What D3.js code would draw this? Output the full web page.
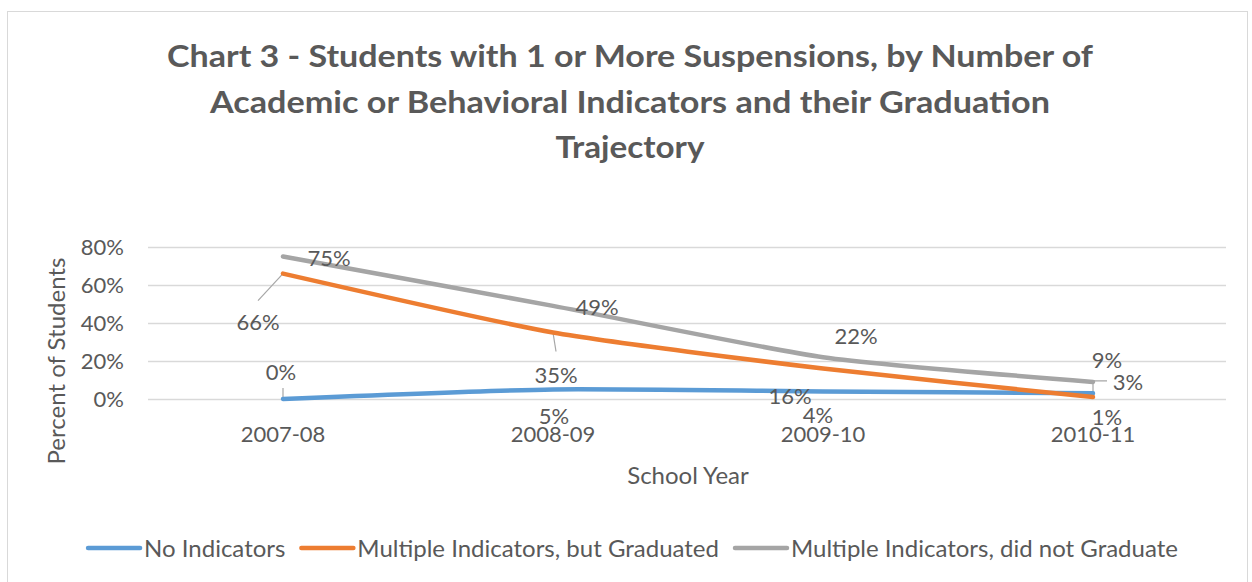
<!DOCTYPE html>
<html>
<head>
<meta charset="utf-8">
<script src="https://cdn.jsdelivr.net/npm/d3@7"></script>
<style>
  body { margin: 0; background: #fff; }
  svg text { font-family: Lato, "Open Sans", sans-serif; fill: #595959; }
</style>
</head>
<body>
<div id="chart"></div>
<script>
// chart data
const years = ["2007-08", "2008-09", "2009-10", "2010-11"];
const seriesNames = ["No Indicators", "Multiple Indicators, but Graduated", "Multiple Indicators, did not Graduate"];
const noIndicators = [0, 5, 4, 3];
const multiGraduated = [66, 35, 16, 1];
const multiNotGraduated = [75, 49, 22, 9];
const yTicks = [0, 20, 40, 60, 80];
const titleLines = [
    "Chart 3 - Students with 1 or More Suspensions, by Number of",
    "Academic or Behavioral Indicators and their Graduation",
    "Trajectory"
];

// label placement (offset of label centre / baseline from the point), like excel put them
const labelOffsets = [
    [[-2, -19], [1, 34], [-5, 32], [35, -3]],
    [[-25, 56], [3, 50], [-33, 35], [14, 28]],
    [[46, 9], [44, 9], [33, -13], [14, -14]]
];
// leader lines, relative to point: [seriesIndex, pointIndex, [[dx,dy],...]]
const leaders = [
    [1, 0, [[0, 0], [-25, 27]]],
    [1, 1, [[0, 0], [3, 19]]],
    [0, 0, [[0, -2], [0, -11]]],
    [2, 3, [[14, -1], [0, -1], [0, 10]]]
];

const width = 1252;
const height = 582;
const colors = ["#5b9bd5", "#ed7d31", "#a5a5a5"];
const plot = {left: 148, right: 1228, top: 247, bottom: 399};

const svg = d3.select("#chart")
    .append("svg")
    .attr("width", width)
    .attr("height", height);

// chart border
svg.append("rect")
    .attr("x", 7.5)
    .attr("y", 11.5)
    .attr("width", 1240)
    .attr("height", 590)
    .attr("fill", "#fff")
    .attr("stroke", "#d9d9d9");

// title
const titleWidths = [926, 840, 149];
svg.append("g")
    .attr("class", "title")
    .selectAll("text")
    .data(titleLines)
    .enter()
    .append("text")
    .attr("x", 630)
    .attr("y", function (d, i) { return 67 + i * 45.5; })
    .attr("text-anchor", "middle")
    .attr("font-size", "31px")
    .attr("font-weight", "bold")
    .attr("textLength", function (d, i) { return titleWidths[i]; })
    .attr("lengthAdjust", "spacingAndGlyphs")
    .text(function (d) { return d; });

let xScale = d3.scaleBand()
    .domain(years)
    .range([plot.left, plot.right]);

let yScale = d3.scaleLinear()
    .domain([0, 80])
    .range([plot.bottom, plot.top]);

// grid
svg.append("g")
    .attr("class", "grid")
    .attr("transform", "translate(" + plot.left + ",0)")
    .call(d3.axisRight(yScale)
        .tickValues(yTicks)
        .tickSize(plot.right - plot.left - 2)
        .tickFormat(""))
    .call(function (g) { g.select(".domain").remove(); })
    .selectAll("line")
    .attr("stroke", "#d9d9d9")
    .attr("stroke-width", 1.3);

// y axis labels
svg.append("g")
    .attr("class", "yAxis")
    .attr("transform", "translate(" + plot.left + ",0)")
    .call(d3.axisLeft(yScale)
        .tickValues(yTicks)
        .tickSize(0)
        .tickPadding(24)
        .tickFormat(function (d) { return d + "%"; }))
    .call(function (g) { g.select(".domain").remove(); })
    .selectAll("text")
    .attr("font-size", "22px")
    .attr("fill", "#595959");

// x axis labels
svg.append("g")
    .attr("class", "xAxis")
    .attr("transform", "translate(0," + plot.bottom + ")")
    .call(d3.axisBottom(xScale)
        .tickSize(0)
        .tickPadding(27))
    .call(function (g) { g.select(".domain").remove(); })
    .selectAll("text")
    .attr("font-size", "22px")
    .attr("fill", "#595959");

// axis titles
svg.append("text")
    .attr("transform", "translate(65,361) rotate(-90)")
    .attr("text-anchor", "middle")
    .attr("font-size", "24px")
    .text("Percent of Students");

svg.append("text")
    .attr("x", (plot.left + plot.right) / 2)
    .attr("y", 484)
    .attr("text-anchor", "middle")
    .attr("font-size", "24px")
    .text("School Year");

const allSeries = [noIndicators, multiGraduated, multiNotGraduated];

function px(i) { return xScale(years[i]) + xScale.bandwidth() / 2; }

let line = d3.line()
    .x(function (d, i) { return px(i); })
    .y(function (d) { return yScale(d); })
    .curve(d3.curveCardinal.tension(0.4));

// leader lines
svg.append("g")
    .attr("class", "leaders")
    .selectAll("polyline")
    .data(leaders)
    .enter()
    .append("polyline")
    .attr("points", function (d) {
        let x0 = px(d[1]);
        let y0 = yScale(allSeries[d[0]][d[1]]);
        return d[2].map(function (p) { return (x0 + p[0]) + "," + (y0 + p[1]); }).join(" ");
    })
    .attr("fill", "none")
    .attr("stroke", "#a6a6a6")
    .attr("stroke-width", 1.2);

// series lines
[0, 1, 2].forEach(function (s) {
    svg.append("path")
        .datum(allSeries[s])
        .attr("d", line)
        .attr("fill", "none")
        .attr("stroke", colors[s])
        .attr("stroke-width", 4.5)
        .attr("stroke-linecap", "round")
        .attr("stroke-linejoin", "round");
});

// data labels
[0, 1, 2].forEach(function (s) {
    svg.append("g")
        .attr("class", "labels")
        .selectAll("text")
        .data(allSeries[s])
        .enter()
        .append("text")
        .attr("x", function (d, i) { return px(i) + labelOffsets[s][i][0]; })
        .attr("y", function (d, i) { return yScale(d) + labelOffsets[s][i][1]; })
        .attr("text-anchor", "middle")
        .attr("font-size", "22px")
        .text(function (d) { return d + "%"; });
});

// legend
let legend = svg.append("g").attr("class", "legend");
let cursor = 0;
seriesNames.forEach(function (name, i) {
    let item = legend.append("g").attr("transform", "translate(" + cursor + ",0)");
    item.append("line")
        .attr("x1", 0).attr("x2", 52)
        .attr("y1", 0).attr("y2", 0)
        .attr("stroke", colors[i])
        .attr("stroke-width", 4.5)
        .attr("stroke-linecap", "round");
    let t = item.append("text")
        .attr("x", 56)
        .attr("y", 8.5)
        .attr("font-size", "24px")
        .text(name);
    cursor += 56 + t.node().getComputedTextLength() + 16;
});
cursor -= 16;
legend.attr("transform", "translate(" + (633 - cursor / 2) + ",548)");
</script>
</body>
</html>
